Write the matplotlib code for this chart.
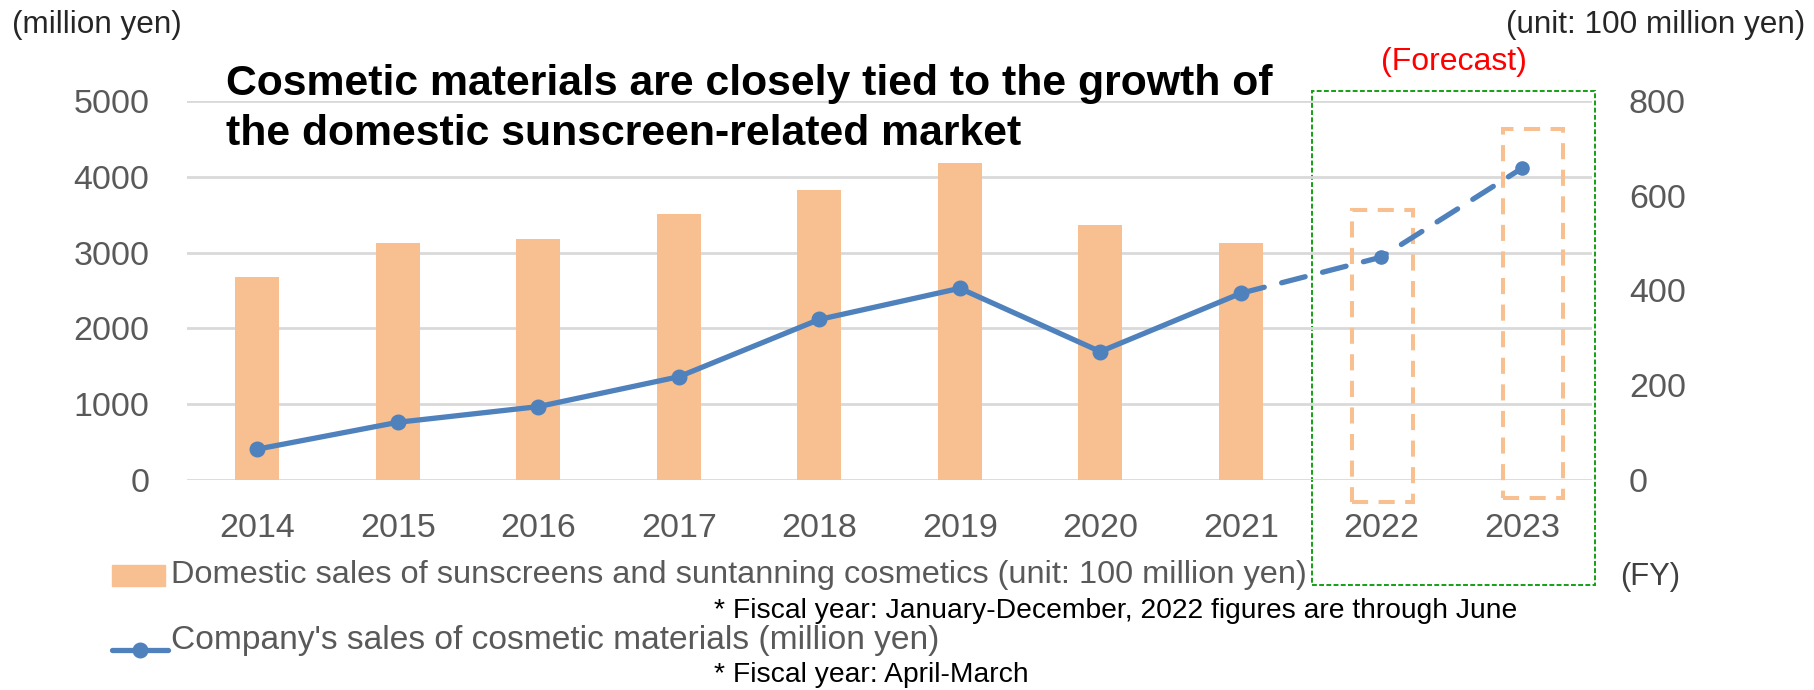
import matplotlib
matplotlib.use("Agg")
import matplotlib.pyplot as plt
from matplotlib.patches import Rectangle
from matplotlib.lines import Line2D
import numpy as np

years = ["2014", "2015", "2016", "2017", "2018", "2019", "2020", "2021", "2022", "2023"]

# domestic sunscreen / suntanning market, 100 million yen (actuals to 2021)
market_sales = [428, 500, 508, 562, 612, 670, 538, 501]
# dashed outline frames for the forecast years (top, bottom) in 100 million yen
forecast_frame_top = [569, 740]
forecast_frame_bottom = [-46, -38]

# company's cosmetic materials sales, million yen (2022-2023 are forecasts)
material_sales = [407, 761, 968, 1362, 2118, 2529, 1694, 2463, 2940, 4111]
n_actual = 8

left_ticks = [0, 1000, 2000, 3000, 4000, 5000]
right_ticks = [0, 200, 400, 600, 800]

ORANGE = "#F8C090"
BLUE = "#4F81BD"
GRID = "#D9D9D9"
TICK = "#595959"
FONT = "Liberation Sans"

W, H = 1814, 690
fig = plt.figure(figsize=(W / 100, H / 100), dpi=100)


def fx(px):
    return px / W


def fy(py):
    return 1 - py / H


ax_bar = fig.add_axes([fx(187), fy(480), fx(1592) - fx(187), fy(101) - fy(480)])
ax_line = ax_bar.twinx()

x = np.arange(len(years))

# bars (right-hand scale)
ax_bar.bar(x[:n_actual], market_sales, width=0.315, color=ORANGE, zorder=2)
frame_shift = [0.01, 0.08]
for i, (top, bot) in enumerate(zip(forecast_frame_top, forecast_frame_bottom)):
    xi = x[n_actual + i] + frame_shift[i]
    ax_bar.bar(xi, top - bot, bottom=bot, width=0.43, fill=False,
               edgecolor=ORANGE, linewidth=2.9, linestyle=(0, (4, 2.6)),
               clip_on=False, zorder=2)

ax_bar.set_xlim(-0.5, len(years) - 0.5)
ax_bar.set_ylim(0, 800)
ax_bar.set_yticks(right_ticks)
# grid follows the left-hand (million yen) scale, drawn behind the bars
ax_bar.yaxis.remove_overlapping_locs = False
ax_bar.set_yticks(np.array(left_ticks) * 800 / 5000, minor=True)
ax_bar.grid(axis="y", which="minor", color=GRID, linewidth=2, zorder=0)
ax_bar.yaxis.tick_right()
ax_bar.tick_params(axis="y", which="both", length=0, pad=26.5, labelsize=24.5,
                   labelcolor=TICK)
ax_bar.set_xticks(x)
ax_bar.set_xticklabels(years)
ax_bar.tick_params(axis="x", length=0, pad=24, labelsize=24.5, labelcolor=TICK)

# line (left-hand scale)
ax_line.plot(x[:n_actual], material_sales[:n_actual], color=BLUE, linewidth=3.8,
             marker="o", markersize=10.5, solid_capstyle="round", zorder=3)
ax_line.plot(x[n_actual - 1:], material_sales[n_actual - 1:], color=BLUE,
             linewidth=3.8, linestyle=(0, (4.6, 3.4)), dash_capstyle="round",
             zorder=3)
ax_line.plot(x[n_actual:], material_sales[n_actual:], linestyle="none",
             marker="o", markersize=9.5, color=BLUE, zorder=3)
ax_line.set_ylim(0, 5000)
ax_line.set_yticks(left_ticks)
ax_line.yaxis.tick_left()
ax_line.tick_params(axis="y", length=0, pad=27, labelsize=24.5, labelcolor=TICK)

for a in (ax_bar, ax_line):
    for s in a.spines.values():
        s.set_visible(False)
    for lbl in a.get_xticklabels() + a.get_yticklabels():
        lbl.set_fontfamily(FONT)

# forecast region
ax_bar.add_patch(Rectangle((0.8005, -0.277), 0.2015, 1.303, transform=ax_bar.transAxes,
                           fill=False, edgecolor="#14A014", linewidth=1.4,
                           linestyle=(0, (2.5, 1.2)), clip_on=False, zorder=1))
ax_bar.text(0.902, 1.103, "(Forecast)", transform=ax_bar.transAxes, ha="center",
            va="center", color="#FF0000", fontsize=23, family=FONT)

fig.text(fx(226), fy(109), "Cosmetic materials are closely tied to the growth of\n"
         "the domestic sunscreen-related market", ha="left", va="center",
         fontsize=30.8, fontweight="bold", family=FONT, linespacing=1.3, color="black")

fig.text(fx(12), fy(25), "(million yen)", ha="left", va="center", fontsize=22.7,
         family=FONT, color="#262626")
fig.text(fx(1805), fy(25), "(unit: 100 million yen)", ha="right", va="center",
         fontsize=22.7, family=FONT, color="#262626")
fig.text(fx(1620), fy(577), "(FY)", ha="left", va="center", fontsize=22.3,
         family=FONT, color="#404040")

# legend
fig.patches.append(Rectangle((fx(112), fy(586)), fx(165) - fx(112), fy(565) - fy(586),
                             transform=fig.transFigure, color=ORANGE))
fig.text(fx(171), fy(575), "Domestic sales of sunscreens and suntanning cosmetics "
         "(unit: 100 million yen)", ha="left", va="center", fontsize=23.4,
         family=FONT, color=TICK)
fig.text(fx(714), fy(611), "* Fiscal year: January-December, 2022 figures are through June",
         ha="left", va="center", fontsize=20.3, family=FONT, color="black")
fig.lines.append(Line2D([fx(112), fx(168)], [fy(650), fy(650)], transform=fig.transFigure,
                        color=BLUE, linewidth=3.8, solid_capstyle="round"))
fig.lines.append(Line2D([fx(140)], [fy(650)], transform=fig.transFigure, color=BLUE,
                        marker="o", markersize=10.5))
fig.text(fx(171), fy(640), "Company's sales of cosmetic materials (million yen)",
         ha="left", va="center", fontsize=24.1, family=FONT, color=TICK)
fig.text(fx(714), fy(675), "* Fiscal year: April-March", ha="left", va="center",
         fontsize=20.3, family=FONT, color="black")

fig.savefig("out.png", dpi=100)
